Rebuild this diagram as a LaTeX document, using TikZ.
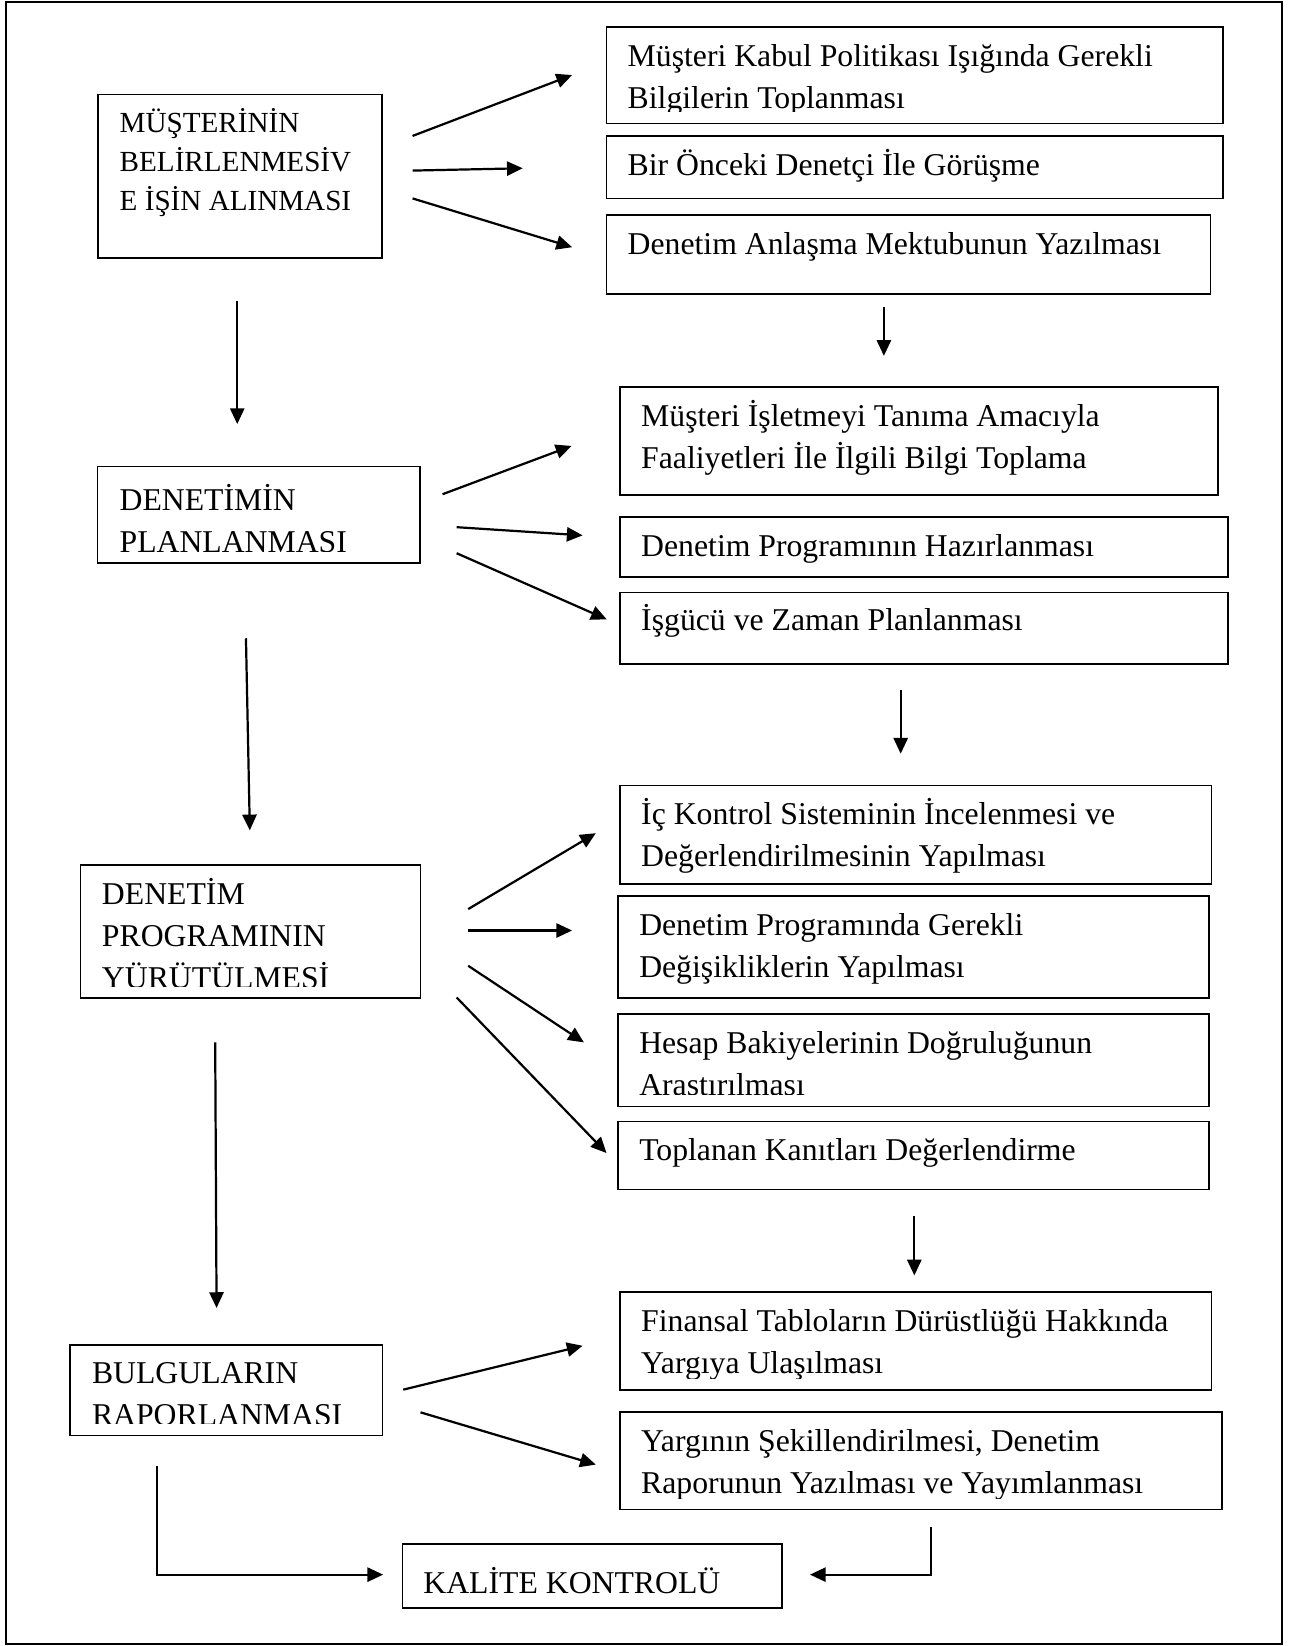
\documentclass[tikz,border=0pt]{standalone}
\usepackage{fontspec}
\setmainfont{Liberation Serif}
\usetikzlibrary{arrows.meta, fit}

\tikzset{
  >={Triangle[length=0.3cm, width=0.27cm]},
  kutu/.style={rectangle, draw, line width=0.9pt, inner sep=0pt},
  yazi/.style={inner sep=0pt, anchor=base west,
    font=\fontsize{17.2}{22.8}\selectfont},
  kucukyazi/.style={font=\fontsize{15.8}{21}\selectfont},
  ok/.style={->, line width=1.2pt},
  cerceve/.style={line width=1.2pt}
}

% kutu: cerceve (#3,#4)-(#5,#6), ilk satirin taban cizgisi (#7,#8);
% yazi alani alt kenardan 11 birim yukarida biter
\newcommand{\kutuciz}[9][]{%
  \node[kutu, fit={(#3,#4) (#5,#6)}] (#2) {};
  \begin{scope}
    \clip (#3,#4) rectangle (#5,#6-11);
    \node[yazi, #1] (#2-yazi) at (#7,#8)
      {\begin{tabular}[t]{@{}l@{}}#9\end{tabular}};
  \end{scope}
}

\begin{document}
\begin{tikzpicture}[x=0.02cm, y=-0.02cm]
\useasboundingbox (0,0) rectangle (1237,1568);

% ── Sayfa cercevesi ──────────────────────────────────────────────
\draw[cerceve] (6,2) rectangle (1221,1566);

% ── Sol sutun: ana asamalar ─────────────────────────────────────
\kutuciz[kucukyazi]{musteri}{93.5}{90}{364}{246}{113.7}{126.5}
  {MÜŞTERİNİN\\BELİRLENMESİV\\E İŞİN ALINMASI}
\kutuciz{planlama}{93}{444.5}{400}{536.5}{113.6}{486.7}
  {DENETİMİN\\PLANLANMASI}
\kutuciz{yurutme}{76.8}{823.8}{400.6}{950.5}{96.8}{862}
  {DENETİM\\PROGRAMININ\\YÜRÜTÜLMESİ}
\kutuciz{raporlama}{66.7}{1281}{364.5}{1367.3}{87.3}{1318}
  {BULGULARIN\\RAPORLANMASI}
\kutuciz{kalite}{383.5}{1470.5}{745}{1531.7}{403}{1517.5}
  {KALİTE KONTROLÜ}

% ── Sag sutun: alt adimlar ──────────────────────────────────────
\kutuciz{toplama}{577.8}{26}{1165}{117.5}{597.6}{63.5}
  {Müşteri Kabul Politikası Işığında Gerekli\\Bilgilerin Toplanması}
\kutuciz{gorusme}{577.8}{129.5}{1165}{189.2}{597.6}{167.3}
  {Bir Önceki Denetçi İle Görüşme}
\kutuciz{mektup}{577.8}{204.8}{1153}{280}{597.6}{242.2}
  {Denetim Anlaşma Mektubunun Yazılması}

\kutuciz{tanima}{590.5}{368.9}{1160}{471.4}{610.5}{406.5}
  {Müşteri İşletmeyi Tanıma Amacıyla\\Faaliyetleri İle İlgili Bilgi Toplama}
\kutuciz{hazirlama}{590.5}{492.7}{1170}{549.8}{610.5}{530}
  {Denetim Programının Hazırlanması}
\kutuciz{isgucu}{590.5}{564.5}{1170}{632.4}{610.5}{601}
  {İşgücü ve Zaman Planlanması}

\kutuciz{ickontrol}{590.5}{748.3}{1154}{842}{610.5}{785.8}
  {İç Kontrol Sisteminin İncelenmesi ve\\Değerlendirilmesinin Yapılması}
\kutuciz{degisiklik}{588.6}{853.3}{1152}{950.5}{608.6}{891}
  {Denetim Programında Gerekli\\Değişikliklerin Yapılması}
\kutuciz{bakiye}{588.6}{966}{1152}{1054}{608.6}{1003.5}
  {Hesap Bakiyelerinin Doğruluğunun\\Arastırılması}
\kutuciz{kanit}{588.6}{1068.3}{1152}{1133}{608.6}{1105.5}
  {Toplanan Kanıtları Değerlendirme}

\kutuciz{yargi}{590.5}{1231}{1154}{1324}{610.5}{1268.5}
  {Finansal Tabloların Dürüstlüğü Hakkında\\Yargıya Ulaşılması}
\kutuciz{rapor}{590.5}{1345}{1164}{1438}{610.5}{1382.5}
  {Yargının Şekillendirilmesi, Denetim\\Raporunun Yazılması ve Yayımlanması}

% ── Ok uclari ───────────────────────────────────────────────────
\coordinate (a1) at (393,129.5);   \coordinate (a1u) at (545,71.5);
\coordinate (a2) at (393,162.5);   \coordinate (a2u) at (498,160.3);
\coordinate (a3) at (393,189);     \coordinate (a3u) at (545,235.5);
\coordinate (b1) at (421.6,470.8); \coordinate (b1u) at (544.4,424.8);
\coordinate (b2) at (435,502.2);   \coordinate (b2u) at (555,510);
\coordinate (b3) at (435,527);     \coordinate (b3u) at (578,590);
\coordinate (c1) at (446,866);     \coordinate (c1u) at (567.6,793.7);
\coordinate (c2) at (446,886.4);   \coordinate (c2u) at (545,886.4);
\coordinate (c3) at (446,920);     \coordinate (c3u) at (556.2,993);
\coordinate (c4) at (435,950.2);   \coordinate (c4u) at (577.8,1098.4);
\coordinate (e1) at (384.1,1323.8);\coordinate (e1u) at (555,1282);
\coordinate (e2) at (400.6,1345.4);\coordinate (e2u) at (567.6,1395.2);

\coordinate (d1) at (226,287);     \coordinate (d1u) at (226,404);
\coordinate (d2) at (842,292);     \coordinate (d2u) at (842,339);
\coordinate (d3) at (234.3,608);   \coordinate (d3u) at (238,791);
\coordinate (d4) at (858,657);     \coordinate (d4u) at (858,718);
\coordinate (d5) at (205,993);     \coordinate (d5u) at (206.3,1246);
\coordinate (d6) at (871,1158);    \coordinate (d6u) at (871,1215);

\coordinate (k1) at (149.2,1396.5); \coordinate (k1u) at (365,1500);
\coordinate (k2) at (887,1455);     \coordinate (k2u) at (771.6,1500);

% ── Oklar ───────────────────────────────────────────────────────
\foreach \bas in {a1,a2,a3,b1,b2,b3,c1,c2,c3,c4,e1,e2,d1,d2,d3,d4,d5,d6}
  \draw[ok] (\bas) -- (\bas u);

\draw[ok] (k1) |- (k1u);
\draw[ok] (k2) |- (k2u);

\end{tikzpicture}
\end{document}
